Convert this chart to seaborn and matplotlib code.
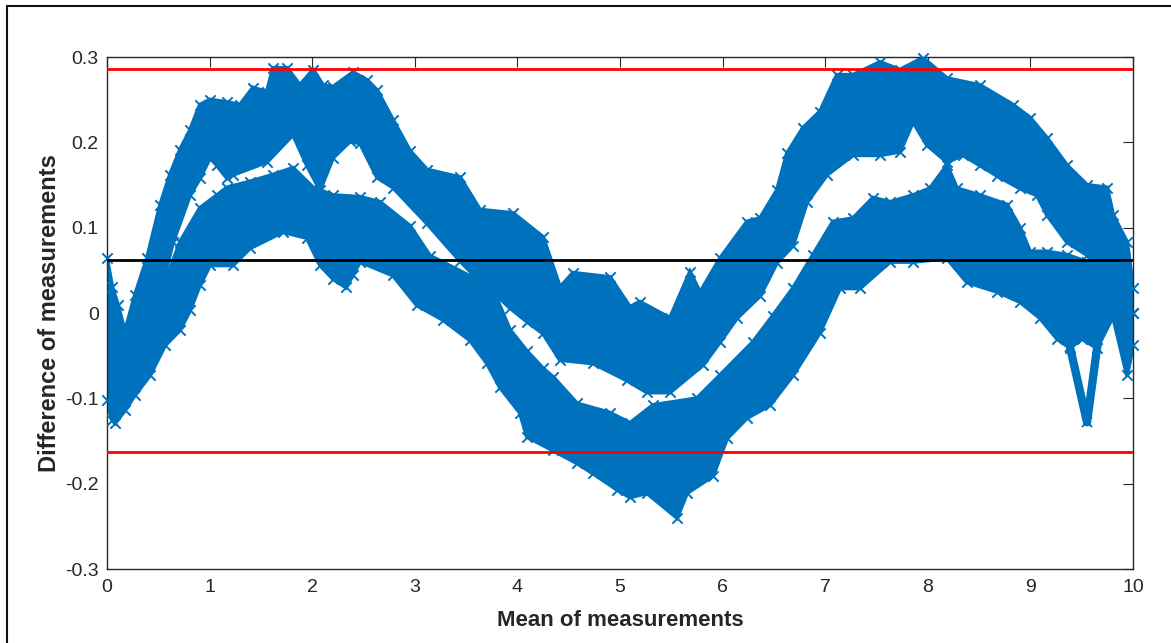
import numpy as np
import pandas as pd
import seaborn as sns
import matplotlib.pyplot as plt
from matplotlib.lines import Line2D

# Envelopes of the two point clouds
# upper cloud (A): top and bottom edge
a_top_x = [0.175, 0.273, 0.390, 0.517, 0.614, 0.711, 0.809, 0.906, 1.004, 1.170,
           1.296, 1.423, 1.559, 1.618, 1.754, 1.881, 2.008, 2.105, 2.203, 2.398,
           2.534, 2.632, 2.788, 2.953, 3.119, 3.441, 3.635, 3.957, 4.250, 4.415,
           4.542, 4.903, 5.097, 5.195, 5.487, 5.682, 5.780, 5.975, 6.238, 6.365,
           6.530, 6.628, 6.784, 6.949, 7.115, 7.271, 7.534, 7.729, 7.953, 8.187,
           8.509, 8.830, 8.996, 9.162, 9.357, 9.552, 9.747, 9.805, 9.942, 10.0]
a_top_y = [-0.022, 0.021, 0.064, 0.126, 0.162, 0.191, 0.214, 0.244, 0.250, 0.247,
           0.244, 0.264, 0.259, 0.287, 0.287, 0.267, 0.285, 0.267, 0.265, 0.282,
           0.273, 0.261, 0.226, 0.190, 0.168, 0.159, 0.121, 0.117, 0.089, 0.030,
           0.047, 0.042, 0.007, 0.013, -0.006, 0.048, 0.024, 0.064, 0.107, 0.111,
           0.144, 0.187, 0.217, 0.236, 0.279, 0.279, 0.294, 0.285, 0.299, 0.275,
           0.267, 0.244, 0.229, 0.205, 0.173, 0.150, 0.147, 0.115, 0.083, 0.029]
a_bot_x = [0.175, 0.322, 0.487, 0.643, 0.809, 0.906, 1.004, 1.072, 1.170, 1.228,
           1.559, 1.813, 1.949, 2.076, 2.203, 2.368, 2.466, 2.632, 2.788, 3.119,
           3.441, 3.606, 3.762, 3.928, 4.094, 4.250, 4.415, 4.737, 5.068, 5.263,
           5.487, 5.809, 5.975, 6.140, 6.365, 6.530, 6.686, 6.823, 7.018, 7.271,
           7.534, 7.729, 7.856, 7.992, 8.187, 8.343, 8.509, 8.674, 8.899, 9.064,
           9.162, 9.357, 9.552, 9.747, 10.0]
a_bot_y = [-0.022, -0.020, 0.009, 0.083, 0.138, 0.158, 0.182, 0.173, 0.158, 0.162,
           0.177, 0.209, 0.173, 0.144, 0.182, 0.201, 0.199, 0.159, 0.147, 0.105,
           0.061, 0.041, 0.025, 0.006, -0.010, -0.024, -0.055, -0.059, -0.079, -0.093,
           -0.093, -0.061, -0.034, -0.006, 0.020, 0.059, 0.079, 0.130, 0.162, 0.185,
           0.185, 0.189, 0.224, 0.197, 0.177, 0.185, 0.173, 0.161, 0.146, 0.138,
           0.115, 0.083, 0.068, 0.040, 0.0]

# lower cloud (B): top and bottom edge
b_top_x = [0.0, 0.049, 0.107, 0.175, 0.322, 0.487, 0.711, 0.906, 1.072, 1.170,
           1.394, 1.618, 1.813, 2.008, 2.203, 2.466, 2.661, 2.953, 3.148, 3.606,
           3.762, 3.928, 4.094, 4.250, 4.347, 4.581, 4.903, 5.097, 5.322, 5.750,
           5.975, 6.296, 6.491, 6.686, 6.881, 7.076, 7.271, 7.466, 7.632, 7.856,
           8.021, 8.187, 8.285, 8.509, 8.772, 8.899, 8.996, 9.162, 9.357, 9.552,
           9.747, 10.0]
b_top_y = [0.064, 0.031, 0.009, -0.022, -0.020, 0.009, 0.083, 0.123, 0.138, 0.147,
           0.154, 0.162, 0.170, 0.147, 0.138, 0.136, 0.130, 0.102, 0.067, 0.039,
           0.027, -0.020, -0.045, -0.065, -0.075, -0.106, -0.117, -0.129, -0.108, -0.100,
           -0.073, -0.034, -0.003, 0.029, 0.068, 0.107, 0.111, 0.135, 0.130, 0.138,
           0.146, 0.173, 0.146, 0.138, 0.127, 0.100, 0.072, 0.072, 0.068, 0.060,
           0.040, 0.0]
b_bot_x = [0.0, 0.049, 0.078, 0.175, 0.273, 0.419, 0.565, 0.711, 0.809, 0.906,
           1.004, 1.228, 1.394, 1.715, 1.949, 2.076, 2.203, 2.330, 2.398, 2.466,
           2.788, 3.021, 3.275, 3.538, 3.704, 3.830, 4.025, 4.094, 4.347, 4.581,
           4.737, 4.971, 5.097, 5.263, 5.556, 5.653, 5.906, 6.043, 6.238, 6.462,
           6.686, 6.949, 7.144, 7.339, 7.632, 7.856, 8.187, 8.382, 8.674, 8.899,
           9.094, 9.259, 9.386, 9.500, 9.649, 9.805, 9.942, 10.0]
b_bot_y = [-0.102, -0.125, -0.129, -0.114, -0.096, -0.073, -0.038, -0.020, 0.003, 0.033,
           0.056, 0.056, 0.076, 0.095, 0.088, 0.056, 0.040, 0.030, 0.045, 0.060,
           0.044, 0.009, -0.008, -0.032, -0.059, -0.087, -0.117, -0.145, -0.161, -0.176,
           -0.188, -0.207, -0.216, -0.211, -0.240, -0.211, -0.191, -0.147, -0.123, -0.108,
           -0.073, -0.023, 0.029, 0.029, 0.060, 0.060, 0.064, 0.036, 0.025, 0.013,
           -0.006, -0.030, -0.041, -0.030, -0.041, -0.004, -0.073, -0.038]

# thin dip near x = 9.5
spike_x = [9.386, 9.552, 9.690]
spike_y = [-0.040, -0.128, -0.005]

# mean difference and limits of agreement
mean_diff = 0.062
upper_loa = 0.2865
lower_loa = -0.1625

xticks = [0, 1, 2, 3, 4, 5, 6, 7, 8, 9, 10]
yticks = [-0.3, -0.2, -0.1, 0, 0.1, 0.2, 0.3]
ytick_labels = ['-0.3', '-0.2', '-0.1', '0', '0.1', '0.2', '0.3']

blue = '#0072BD'
dark = '#262626'

sns.set_theme(style='white')
plt.rcParams['font.family'] = ['Liberation Sans', 'DejaVu Sans']

fig = plt.figure(figsize=(11.71, 6.43), dpi=100)
ax = fig.add_axes([107 / 1171, 1 - 569 / 643, 1026 / 1171, 512 / 643])

# filled clouds
for tx, ty, bx, by in [(a_top_x, a_top_y, a_bot_x, a_bot_y),
                       (b_top_x, b_top_y, b_bot_x, b_bot_y)]:
    px = list(tx) + list(bx)[::-1]
    py = list(ty) + list(by)[::-1]
    ax.fill(px, py, color=blue, lw=3, ec=blue, zorder=2)

# 'x' markers along the edges for the ragged look
edges = pd.concat([
    pd.DataFrame({'x': a_top_x, 'y': a_top_y}),
    pd.DataFrame({'x': a_bot_x, 'y': a_bot_y}),
    pd.DataFrame({'x': b_top_x, 'y': b_top_y}),
    pd.DataFrame({'x': b_bot_x, 'y': b_bot_y}),
], ignore_index=True)
sns.scatterplot(data=edges, x='x', y='y', marker='x', s=55, color=blue,
                linewidth=1.4, ax=ax, zorder=3, clip_on=False)

sns.lineplot(x=spike_x, y=spike_y, sort=False, estimator=None, color=blue,
             lw=6, marker='x', ms=7, mew=1.4, mec=blue, ax=ax, zorder=3)

# reference lines
ax.axhline(upper_loa, color='#FF0000', lw=2, zorder=4)
ax.axhline(lower_loa, color='#FF0000', lw=2, zorder=4)
ax.axhline(mean_diff, color='black', lw=2, zorder=4)

ax.set_xlim(0, 10)
ax.set_ylim(-0.3, 0.3)
ax.set_xticks(xticks)
ax.set_xticklabels([str(t) for t in xticks])
ax.set_yticks(yticks)
ax.set_yticklabels(ytick_labels)
ax.tick_params(direction='in', length=7, width=0.8, color=dark,
               top=True, right=True, labelsize=14, labelcolor=dark)
ax.tick_params(axis='x', pad=7)
ax.tick_params(axis='y', pad=6)
for s in ax.spines.values():
    s.set_color(dark)
    s.set_linewidth(1.0)
    s.set_visible(True)

ax.set_xlabel('Mean of measurements', fontsize=16, fontweight='bold', color=dark, labelpad=10)
ax.set_ylabel('Difference of measurements', fontsize=17, fontweight='bold', color=dark, labelpad=3)

# outer frame of the image
fig.add_artist(Line2D([7 / 1171, 1], [1 - 6 / 643, 1 - 6 / 643], color='#111111', lw=1.5))
fig.add_artist(Line2D([7 / 1171, 7 / 1171], [0, 1 - 6 / 643], color='#111111', lw=1.5))

fig.savefig('out.png', dpi=100, facecolor='white')
